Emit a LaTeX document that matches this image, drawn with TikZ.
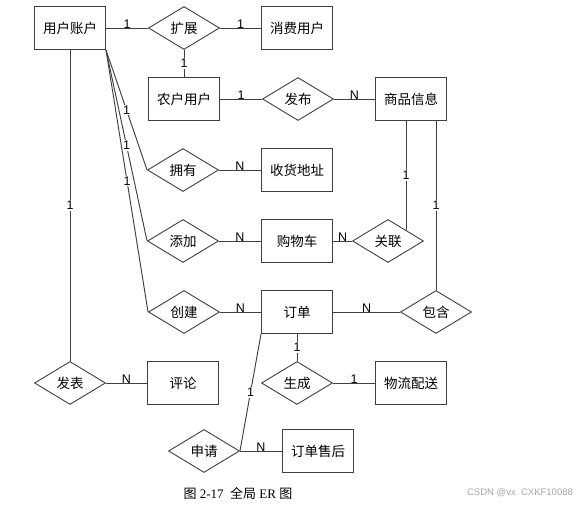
\documentclass[tikz,border=0pt]{standalone}
\usepackage{fontspec}
\setmainfont{Liberation Serif}
\newfontfamily\cjk{Noto Sans CJK SC}
\newfontfamily\lblsans{Liberation Sans}
\usetikzlibrary{shapes.geometric}

\tikzset{entite/.style = {draw=black!75, line width=1pt, minimum width=71pt, minimum height=43pt,
                          inner sep=0pt, font=\cjk\fontsize{13.5}{14}\selectfont},
         relation/.style = {diamond, draw=black!75, line width=0.9pt, minimum width=71pt, minimum height=43pt,
                            inner sep=0pt, font=\cjk\fontsize{13.5}{14}\selectfont},
         lien/.style = {draw=black!75, line width=0.95pt},
         card/.style = {font=\lblsans\fontsize{12.5}{13}\selectfont, inner sep=1pt},
         cardh/.style = {card, above, yshift=-1.5pt},
         cardv/.style = {card, fill=white}
        }

\begin{document}
\begin{tikzpicture}[x=1pt, y=-1pt]
  \useasboundingbox (0,0) rectangle (581,505);
  % entites
  \node[entite] (zh) at (70, 28) {用户账户};
  \node[entite] (xf) at (297, 28) {消费用户};
  \node[entite] (nh) at (184, 99) {农户用户};
  \node[entite] (sp) at (411, 99) {商品信息};
  \node[entite] (sh) at (297, 170) {收货地址};
  \node[entite] (gw) at (297, 241) {购物车};
  \node[entite] (dd) at (297, 312) {订单};
  \node[entite] (pl) at (183, 383) {评论};
  \node[entite] (wl) at (411, 383) {物流配送};
  \node[entite] (sh2) at (318, 451) {订单售后};
  % relations
  \node[relation] (kz) at (184, 28) {扩展};
  \node[relation] (fb) at (298, 99) {发布};
  \node[relation] (yy) at (183, 170) {拥有};
  \node[relation] (tj) at (183, 241) {添加};
  \node[relation] (gl) at (388, 241) {关联};
  \node[relation] (cj) at (184, 312) {创建};
  \node[relation] (bh) at (436, 312) {包含};
  \node[relation] (fbiao) at (70, 383) {发表};
  \node[relation] (sc) at (297, 383) {生成};
  \node[relation] (sq) at (204, 451) {申请};
  % liens horizontaux
  \foreach \a/\b/\c in {zh/kz/1, kz/xf/1, nh/fb/1, fb/sp/N, yy/sh/N, tj/gw/N, gw/gl/N,
                        cj/dd/N, dd/bh/N, fbiao/pl/N, sc/wl/1, sq/sh2/N}
      {\draw[lien] (\a.east) -- node[cardh] {\c} (\b.west);};
  % liens verticaux
  \foreach \a/\b in {kz/nh, zh/fbiao, dd/sc}
      {\draw[lien] (\a.south) -- node[cardv] {1} (\b.north);};
  \foreach \b in {yy, tj, cj}
      {\draw[lien] (zh.south east) -- node[cardv] {1} (\b.west);};
  \draw[lien] (sp.south -| gl.north east) -- node[cardv] {1} (gl.north east);
  \draw[lien] (sp.south -| bh.north) -- node[cardv] {1} (bh.north);
  \draw[lien] (dd.south west) -- node[cardv] {1} (sq.east);
  % legende
  \node (titre) at (238, 493) {\fontsize{13}{14}\selectfont{\cjk 图} 2-17\ \ {\cjk 全局} ER {\cjk 图}};
  \node[text=black!35, font=\lblsans\fontsize{9.5}{10}\selectfont] (marque) at (520, 493) {CSDN @vx\ \ CXKF10088};
\end{tikzpicture}
\end{document}
